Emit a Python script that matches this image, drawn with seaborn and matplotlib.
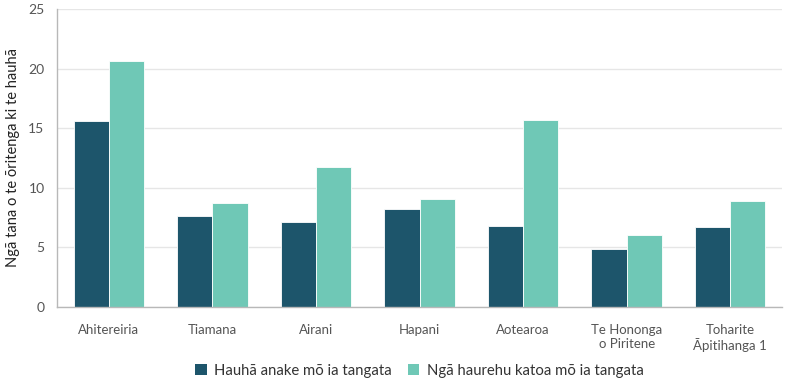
import numpy as np
import pandas as pd
import matplotlib.pyplot as plt
import seaborn as sns

# ============================================================
# DATA
# ============================================================
countries = ['Ahitereiria', 'Tiamana', 'Airani', 'Hapani', 'Aotearoa',
             'Te Hononga\no Piritene', 'Toharite\nĀpitihanga 1']
hauha_anake = [15.6, 7.6, 7.1, 8.25, 6.8, 4.85, 6.75]
haurehu_katoa = [20.6, 8.7, 11.75, 9.1, 15.7, 6.05, 8.85]
series_names = ['Hauhā anake mō ia tangata', 'Ngā haurehu katoa mō ia tangata']
y_ticks = [0, 5, 10, 15, 20, 25]

df = pd.DataFrame({
    'Country': countries * 2,
    'Value': hauha_anake + haurehu_katoa,
    'Series': [series_names[0]] * len(countries) + [series_names[1]] * len(countries),
})

# ============================================================
# PLOT
# ============================================================
sns.set_style('white')
plt.rcParams['font.family'] = ['Lato', 'DejaVu Sans']

fig = plt.figure(figsize=(7.95, 3.88), dpi=100)
ax = fig.add_axes([0.0717, 0.2088, 0.912, 0.768])

palette = {series_names[0]: '#1d556b', series_names[1]: '#6fc8b6'}
sns.barplot(data=df, x='Country', y='Value', hue='Series', palette=palette,
            width=0.68, saturation=1, edgecolor='white', linewidth=0.6, ax=ax)

ax.set_xlim(-0.5, len(countries) - 0.5)
ax.set_ylim(0, 25)
ax.set_yticks(y_ticks)
ax.yaxis.grid(True, color='#e6e6e6', linewidth=1)
ax.set_axisbelow(True)

for s in ['top', 'right']:
    ax.spines[s].set_visible(False)
for s in ['left', 'bottom']:
    ax.spines[s].set_color('#b8b8b8')
    ax.spines[s].set_linewidth(1)

# tick marks between categories
ax.set_xticks(np.arange(-0.5, len(countries)), minor=True)
ax.tick_params(axis='x', which='minor', length=5, color='#b8b8b8', width=1)
ax.tick_params(axis='x', which='major', length=0, pad=12, labelsize=9.5, labelcolor='#555555')
ax.tick_params(axis='y', length=5, color='#b8b8b8', width=1, labelsize=10, labelcolor='#555555', pad=4)

ax.set_xlabel('')
ax.set_ylabel('Ngā tana o te ōritenga ki te hauhā', fontsize=10.5, color='#222222', labelpad=6)

leg = ax.legend(loc='upper center', bbox_to_anchor=(0.5, -0.145), ncol=2, frameon=False,
                fontsize=10.7, handlelength=0.75, handleheight=0.75, handletextpad=0.5,
                columnspacing=1.1, labelcolor='#333333')
for h in leg.legend_handles:
    h.set_edgecolor('none')

fig.savefig('out.png', dpi=100)
